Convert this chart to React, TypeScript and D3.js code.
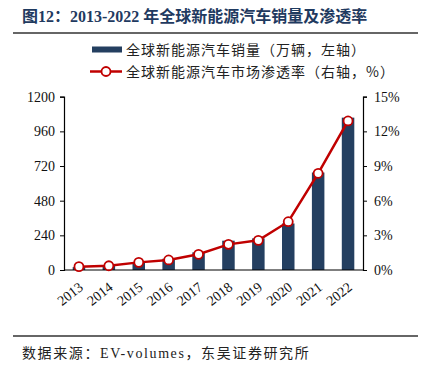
import React, { useEffect, useRef } from 'react';
import * as d3 from 'd3';

const years = ['2013', '2014', '2015', '2016', '2017', '2018', '2019', '2020', '2021', '2022'];
const sales = [20, 32, 55, 78, 122, 203, 219, 322, 675, 1055];
const penetration = [0.29, 0.37, 0.66, 0.87, 1.36, 2.22, 2.57, 4.18, 8.37, 12.9];
const leftTicks = [0, 240, 480, 720, 960, 1200];
const rightTicks = [0, 3, 6, 9, 12, 15];

const App: React.FC = () => {
  const ref = useRef<SVGSVGElement>(null);

  useEffect(() => {
    const svg = d3.select(ref.current);
    svg.selectAll('*').remove();

    const left = 64;
    const right = 363;
    const top = 96.7;
    const bottom = 270;
    const serif = '"Liberation Serif", "Times New Roman", serif';
    const cjk = '"Noto Sans CJK SC", sans-serif';

    // title
    svg.append('text')
      .attr('x', 22).attr('y', 22)
      .attr('font-family', `${serif}, ${cjk}`)
      .attr('font-weight', 'bold').attr('font-size', 16)
      .attr('fill', '#1f3a60')
      .text('图12：2013-2022 年全球新能源汽车销量及渗透率');
    svg.append('line')
      .attr('x1', 13).attr('x2', 418).attr('y1', 33).attr('y2', 33)
      .attr('stroke', '#333').attr('stroke-width', 1.5);

    // legend
    svg.append('rect').attr('x', 92).attr('y', 46.5).attr('width', 30).attr('height', 6).attr('fill', '#243f60');
    svg.append('text').attr('x', 126).attr('y', 54.5)
      .attr('font-family', cjk).attr('font-size', 14).attr('letter-spacing', 1)
      .attr('fill', '#222').text('全球新能源汽车销量（万辆，左轴）');
    svg.append('line').attr('x1', 90).attr('x2', 122).attr('y1', 71.5).attr('y2', 71.5)
      .attr('stroke', '#c00000').attr('stroke-width', 2.5);
    svg.append('circle').attr('cx', 106).attr('cy', 71.5).attr('r', 4.5)
      .attr('fill', '#fff').attr('stroke', '#c00000').attr('stroke-width', 1.8);
    svg.append('text').attr('x', 126).attr('y', 77)
      .attr('font-family', cjk).attr('font-size', 14).attr('letter-spacing', 1)
      .attr('fill', '#222').text('全球新能源汽车市场渗透率（右轴，%）');

    const x = d3.scaleBand().domain(years).range([left, right]);
    const yL = d3.scaleLinear().domain([0, 1200]).range([bottom, top]);
    const yR = d3.scaleLinear().domain([0, 15]).range([bottom, top]);

    const barW = 12.5;
    svg.append('g').selectAll('rect').data(years).join('rect')
      .attr('x', (d) => (x(d) ?? 0) + x.bandwidth() / 2 - barW / 2)
      .attr('width', barW)
      .attr('y', (_, i) => yL(sales[i]))
      .attr('height', (_, i) => bottom - yL(sales[i]))
      .attr('fill', '#243f60');

    const axisL = svg.append('g').attr('transform', `translate(${left},0)`)
      .call(d3.axisLeft(yL).tickValues(leftTicks).tickSize(4).tickPadding(5).tickFormat((d) => `${d}`));
    const axisR = svg.append('g').attr('transform', `translate(${right},0)`)
      .call(d3.axisRight(yR).tickValues(rightTicks).tickSize(4).tickPadding(7).tickFormat((d) => `${d}%`));
    const axisB = svg.append('g').attr('transform', `translate(0,${bottom})`)
      .call(d3.axisBottom(x).tickSize(0).tickPadding(0));

    [axisL, axisR, axisB].forEach((a) => {
      a.select('.domain').attr('stroke', '#000').attr('stroke-width', 1.2);
      a.selectAll('line').attr('stroke', '#000');
      a.selectAll('text').attr('font-family', serif).attr('font-size', 14).attr('fill', '#111');
    });
    axisB.select('.domain').attr('d', `M${left},0H${right}`);
    axisB.selectAll('text')
      .attr('text-anchor', 'end')
      .attr('dy', 0)
      .attr('transform', 'translate(5,19) rotate(-38)');

    const line = d3.line<number>()
      .x((_, i) => (x(years[i]) ?? 0) + x.bandwidth() / 2)
      .y((d) => yR(d));
    svg.append('path').datum(penetration)
      .attr('fill', 'none').attr('stroke', '#c00000').attr('stroke-width', 2.5)
      .attr('d', line);
    svg.append('g').selectAll('circle').data(penetration).join('circle')
      .attr('cx', (_, i) => (x(years[i]) ?? 0) + x.bandwidth() / 2)
      .attr('cy', (d) => yR(d))
      .attr('r', 4.5)
      .attr('fill', '#fff').attr('stroke', '#c00000').attr('stroke-width', 1.8);

    // footer
    svg.append('line')
      .attr('x1', 13).attr('x2', 418).attr('y1', 336).attr('y2', 336)
      .attr('stroke', '#333').attr('stroke-width', 1.5);
    svg.append('text').attr('x', 22).attr('y', 358)
      .attr('font-family', `${serif}, ${cjk}`).attr('font-size', 14).attr('letter-spacing', 1.6)
      .attr('fill', '#222').text('数据来源：EV-volumes，东吴证券研究所');
  }, []);

  return (
    <svg ref={ref} width={425} height={370}
      style={{ position: 'absolute', left: 0, top: 0, background: '#fff' }} />
  );
};

export default App;
